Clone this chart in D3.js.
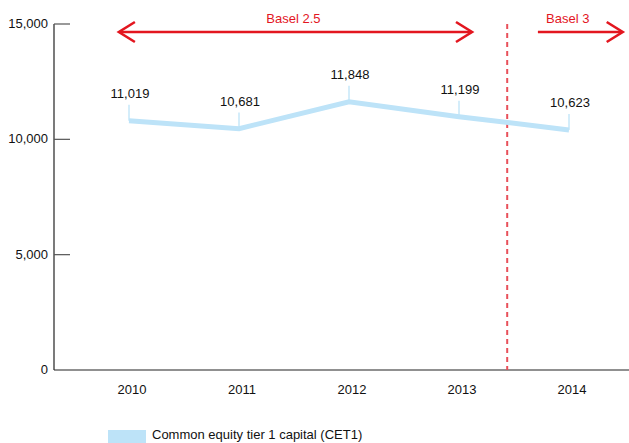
<!DOCTYPE html>
<html>
<head>
<meta charset="utf-8">
<script src="https://cdn.jsdelivr.net/npm/d3@7.9.0/dist/d3.min.js"></script>
<style>
  body { margin: 0; background: #fff; }
  svg { display: block; font-family: 'Liberation Sans', Arial, sans-serif; }
</style>
</head>
<body>
<svg id="chart" width="629" height="443"></svg>
<script>
const years = ['2010', '2011', '2012', '2013', '2014'];
const cet1 = [11019, 10681, 11848, 11199, 10623];
const yTicks = [0, 5000, 10000, 15000];
const periods = [
  { label: 'Basel 2.5', from: 2009.89, to: 2013.1, both: true },
  { label: 'Basel 3', from: 2013.69, to: 2014.47, both: false },
];
const regimeChange = 2013.42;
const legendLabel = 'Common equity tier 1 capital (CET1)';

const width = 629;
const height = 443;
const svg = d3.select('#chart');

const axisLeft = 54;
const xScale = d3.scaleLinear().domain([2010, 2014]).range([131, 571]);
const yScale = d3.scaleLinear().domain([0, 15000]).range([370, 24]);

const red = '#e3161f';
const blue = '#bde3f8';

// y axis
svg.append('line')
  .attr('x1', axisLeft).attr('x2', axisLeft)
  .attr('y1', yScale(15000)).attr('y2', yScale(0))
  .attr('stroke', '#222').attr('stroke-width', 1.2);

const yAxis = svg.append('g').attr('transform', `translate(${axisLeft},0)`);
yAxis.selectAll('line.tick')
  .data(yTicks.filter((d) => d > 0))
  .join('line')
  .attr('class', 'tick')
  .attr('x1', 0).attr('x2', 16)
  .attr('y1', (d) => yScale(d)).attr('y2', (d) => yScale(d))
  .attr('stroke', '#555').attr('stroke-width', 1.2);
yAxis.selectAll('text')
  .data(yTicks)
  .join('text')
  .attr('x', -6)
  .attr('y', (d) => yScale(d) + 4)
  .attr('text-anchor', 'end')
  .attr('font-size', 13)
  .attr('fill', '#111')
  .text((d) => d3.format(',')(d));

// x axis
svg.append('line')
  .attr('x1', axisLeft).attr('x2', width)
  .attr('y1', yScale(0)).attr('y2', yScale(0))
  .attr('stroke', '#222').attr('stroke-width', 1.2);

svg.append('g').selectAll('text')
  .data(years)
  .join('text')
  .attr('x', (d) => xScale(+d) + 1)
  .attr('y', 394)
  .attr('text-anchor', 'middle')
  .attr('font-size', 13)
  .attr('fill', '#111')
  .text((d) => d);

// regime change dashed line
svg.append('line')
  .attr('x1', xScale(regimeChange)).attr('x2', xScale(regimeChange))
  .attr('y1', 24).attr('y2', yScale(0))
  .attr('stroke', '#e8505a').attr('stroke-width', 2)
  .attr('stroke-dasharray', '5,4');

// period arrows
const arrowY = 32;
const head = (x, dir) => `M${x - dir * 16},${arrowY - 10}L${x},${arrowY}L${x - dir * 16},${arrowY + 10}`;
periods.forEach((p) => {
  const x0 = xScale(p.from);
  const x1 = xScale(p.to);
  const g = svg.append('g')
    .attr('stroke', red).attr('stroke-width', 2.6).attr('fill', 'none');
  g.append('line').attr('x1', x0 + 1).attr('x2', x1 - 1).attr('y1', arrowY).attr('y2', arrowY);
  g.append('path').attr('d', head(x1, 1));
  if (p.both) g.append('path').attr('d', head(x0, -1));
  svg.append('text')
    .attr('x', p.both ? (x0 + x1) / 2 - 2 : (x0 + x1) / 2 - 12)
    .attr('y', 23)
    .attr('text-anchor', 'middle')
    .attr('font-size', 13)
    .attr('fill', red)
    .text(p.label);
});

// data line (drawn slightly below the value as in the original)
const pts = years.map((y, i) => ({ year: +y, value: cet1[i] }));
const lineOffset = 5;
const line = d3.line()
  .x((d) => xScale(d.year) - 2)
  .y((d) => yScale(d.value) + lineOffset);

svg.append('path')
  .datum(pts)
  .attr('d', line)
  .attr('fill', 'none')
  .attr('stroke', blue)
  .attr('stroke-width', 5)
  .attr('stroke-linejoin', 'miter');

// leaders and labels
svg.append('g').selectAll('line')
  .data(pts)
  .join('line')
  .attr('x1', (d) => xScale(d.year) - 2).attr('x2', (d) => xScale(d.year) - 2)
  .attr('y1', (d) => yScale(d.value) - 11)
  .attr('y2', (d) => yScale(d.value) + lineOffset)
  .attr('stroke', blue).attr('stroke-width', 1.3);

svg.append('g').selectAll('text')
  .data(pts)
  .join('text')
  .attr('x', (d) => xScale(d.year) - 1)
  .attr('y', (d) => yScale(d.value) - 18)
  .attr('text-anchor', 'middle')
  .attr('font-size', 13)
  .attr('fill', '#111')
  .text((d) => d3.format(',')(d.value));

// legend
svg.append('rect')
  .attr('x', 108).attr('y', 430)
  .attr('width', 38).attr('height', 13)
  .attr('fill', blue);
svg.append('text')
  .attr('x', 152).attr('y', 439)
  .attr('font-size', 13)
  .attr('fill', '#111')
  .text(legendLabel);
</script>
</body>
</html>
